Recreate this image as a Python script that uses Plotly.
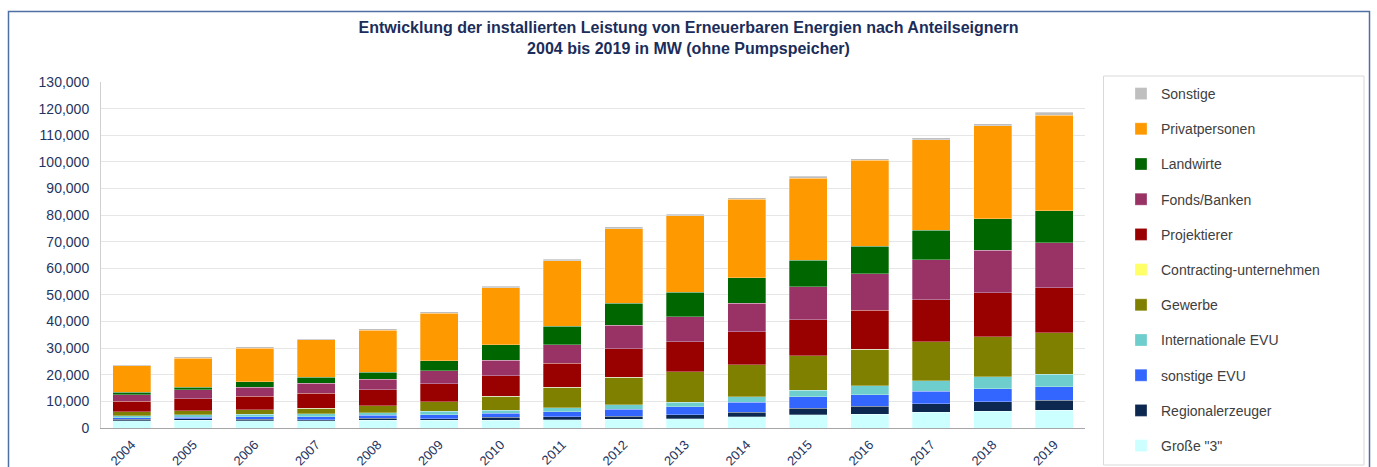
import plotly.graph_objects as go

years = [str(y) for y in range(2004, 2020)]

grosse3 = [2750, 2900, 2750, 2750, 3000, 2900, 3000, 3150, 3250, 3500, 4150, 5000, 5250, 6000, 6250, 6750]
regional = [500, 500, 500, 400, 600, 600, 1000, 1000, 1250, 1500, 1750, 2500, 2900, 3150, 3650, 3650]
sonstige_evu = [600, 700, 900, 1100, 1100, 1500, 1500, 2000, 2600, 3000, 3750, 4150, 4400, 4650, 4900, 5150]
internationale_evu = [700, 800, 1000, 1100, 1000, 1300, 1250, 1500, 1650, 1750, 2150, 2500, 3400, 3900, 4400, 4650]
gewerbe = [1500, 1600, 1750, 2100, 2600, 3500, 5150, 7750, 10400, 11300, 12000, 13050, 13550, 14650, 15150, 15650]
contracting = [0] * 16
projektierer = [4000, 4400, 5000, 5700, 6000, 6900, 7650, 9000, 10650, 11400, 12300, 13550, 14650, 15900, 16550, 16900]
fonds_banken = [2400, 3400, 3500, 3600, 4000, 4900, 5900, 6900, 8750, 9400, 10800, 12300, 13800, 15050, 15900, 16900]
landwirte = [1000, 1100, 2000, 2400, 2600, 3750, 5750, 7000, 8400, 9250, 9500, 10000, 10400, 11000, 11800, 12050]
privatpersonen = [9950, 10900, 12650, 14000, 15900, 17800, 21550, 24500, 28000, 28600, 29550, 30800, 32200, 34000, 35050, 35850]
sonstige = [300, 400, 400, 400, 400, 450, 500, 600, 600, 600, 650, 650, 700, 700, 750, 1000]

series = [
    ('Große "3"', grosse3, "#CCFFFF"),
    ("Regionalerzeuger", regional, "#0D2850"),
    ("sonstige EVU", sonstige_evu, "#3366FF"),
    ("Internationale EVU", internationale_evu, "#6ECDCD"),
    ("Gewerbe", gewerbe, "#808000"),
    ("Contracting-unternehmen", contracting, "#FFFF66"),
    ("Projektierer", projektierer, "#990000"),
    ("Fonds/Banken", fonds_banken, "#993366"),
    ("Landwirte", landwirte, "#006600"),
    ("Privatpersonen", privatpersonen, "#FF9900"),
    ("Sonstige", sonstige, "#BFBFBF"),
]

fig = go.Figure()
n = len(series)
for i, (name, vals, col) in enumerate(series):
    fig.add_trace(go.Bar(
        x=years, y=vals, name=name, legendgroup=name, legendrank=n - i,
        marker=dict(color=col, line=dict(width=0.6, color="rgba(255,255,255,0.5)")),
    ))

navy = "#1F3460"
L, R, T, B = 101, 292, 82, 39
W, H = 1377, 467
pw, ph = W - L - R, H - T - B

def px_x(px):
    return (px - L) / pw

def px_y(py):
    return (H - B - py) / ph

fig.update_layout(
    width=W, height=H,
    margin=dict(l=L, r=R, t=T, b=B, autoexpand=False),
    barmode="stack",
    bargap=0.38,
    paper_bgcolor="white",
    plot_bgcolor="white",
    font=dict(family="Liberation Sans, Arial, sans-serif", color=navy, size=13),
    title=dict(
        text="<b>Entwicklung der installierten Leistung von Erneuerbaren Energien nach Anteilseignern<br>2004 bis 2019 in MW (ohne Pumpspeicher)</b>",
        x=0.5, xref="container", xanchor="center",
        y=1 - 33 / H, yref="container", yanchor="top",
        font=dict(size=16, color="#1B2D5A", family="Liberation Sans, Arial, sans-serif"),
    ),
    xaxis=dict(
        type="category", tickangle=-45, showline=True, linecolor="#A6A6A6", linewidth=1,
        tickfont=dict(size=13, color=navy), ticks="", ticklabelstandoff=3,
    ),
    yaxis=dict(
        range=[0, 130000], tickvals=list(range(0, 130001, 10000)), tickformat=",",
        showgrid=True, gridcolor="#E6E6E6", gridwidth=1, zeroline=False,
        showline=True, linecolor="#D0D0D0", linewidth=1,
        tickfont=dict(size=14, color=navy), ticks="", ticklabelstandoff=8,
    ),
    legend=dict(
        x=px_x(1121), xanchor="left", y=px_y(78), yanchor="top",
        traceorder="grouped", tracegroupgap=14, maxheight=1000,
        font=dict(size=14, color="#404040"),
        bgcolor="rgba(0,0,0,0)", borderwidth=0,
    ),
    shapes=[
        dict(type="rect", xref="paper", yref="paper",
             x0=px_x(8.5), x1=px_x(1369.5), y0=px_y(490), y1=px_y(11.5),
             line=dict(color="#4F6EA3", width=1.5), fillcolor="rgba(0,0,0,0)", layer="below"),
        dict(type="rect", xref="paper", yref="paper",
             x0=px_x(1103.5), x1=px_x(1364), y0=px_y(465), y1=px_y(76),
             line=dict(color="#D9D9D9", width=1), fillcolor="rgba(0,0,0,0)", layer="below"),
    ],
)

fig.write_html(
    "out.html",
    config={"displayModeBar": False},
    post_script="document.body.style.margin='0';document.body.style.overflow='hidden';",
)
